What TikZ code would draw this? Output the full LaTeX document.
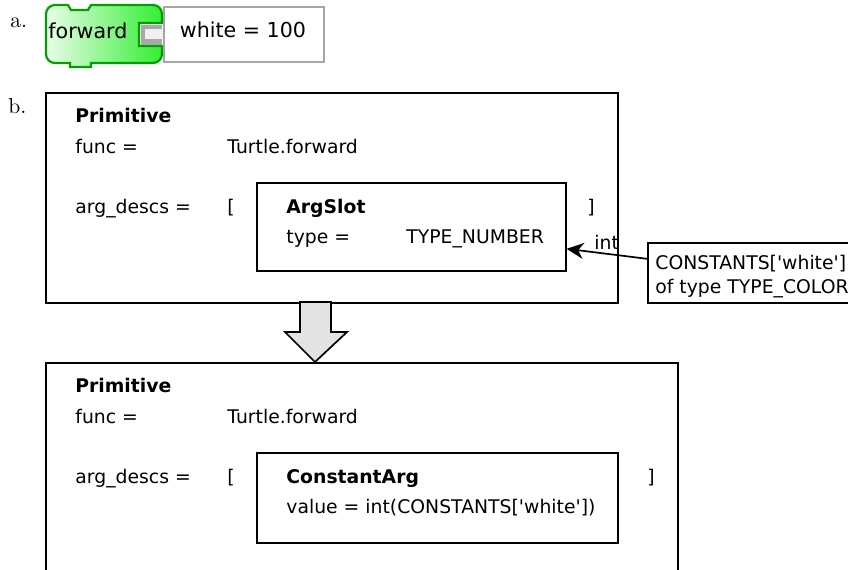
\documentclass[tikz,border=0pt]{standalone}
\usepackage{fontspec}
\newfontfamily\dejavu[Ligatures=TeXOff]{DejaVu Sans}
\usetikzlibrary{arrows.meta}
\definecolor{block-green}{HTML}{33EE33}
\definecolor{block-line}{HTML}{00A000}
\definecolor{slot-gray}{HTML}{A8A8A8}
\newcommand{\dv}{\dejavu\fontsize{9.4}{12}\selectfont}

\begin{document}
\begin{tikzpicture}[x=0.5pt, y=-0.5pt,
    every node/.style={inner sep=0pt, font=\dv},
    box/.style={draw, line width=0.8pt, anchor=north west},
    txt/.style={anchor=base west},
    bold/.style={font=\dv\bfseries},
    lbl/.style={anchor=base west, font=\rmfamily\fontsize{10.8}{13}\selectfont}]
  \useasboundingbox (0,0) rectangle (848,569);
  \clip (0,0) rectangle (848,569);

  % a. the block
  \node[lbl] (lbla) at (10,27) {a.};
  \draw[block-line, line width=1.1pt, left color=block-green!10, right color=block-green]
    (46,30) [rounded corners=4.5pt] -- (46,5) [sharp corners] -- (68,5) -- (71,10)
    -- (88,10) -- (91,5) [rounded corners=4.5pt] -- (162,5) [sharp corners]
    -- (162,23) -- (139,23) -- (139,46) -- (162,46) [rounded corners=4.5pt]
    -- (162,63) [sharp corners] -- (91,63) -- (91,67) -- (70,67) -- (70,63)
    [rounded corners=4.5pt] -- (46,63) -- cycle;
  \fill[slot-gray] (140.5,24.5) rectangle (162,44.5);
  \fill[gray!12] (145,29) rectangle (164,39);
  \node[box, draw=gray!70, line width=1pt, minimum width=80pt,
    minimum height=27.5pt] (val) at (163,6) {};
  \node[txt, font=\dejavu\fontsize{10.3}{12}\selectfont] (fwd) at (48,38) {forward};
  \node[anchor=base, font=\dejavu\fontsize{10.3}{12}\selectfont] (valtext) at (243,37) {white = 100};

  % b. before
  \node[lbl] (lblb) at (8,113) {b.};
  \node[box, minimum width=286pt, minimum height=105pt] (prim1) at (45,92) {};
  \node[txt, bold] (name1) at (75,122) {Primitive};
  \node[txt] (func1) at (75,153) {func =};
  \node[txt] (funcval1) at (227,153) {Turtle.forward};
  \node[txt] (args1) at (75,213) {arg\_descs =};
  \node[txt] (open1) at (227,213) {[};
  \node[txt] (close1) at (587,213) {]};
  \node[box, minimum width=154.5pt, minimum height=44pt] (slot) at (256,182) {};
  \node[txt, bold] (slotname) at (286,213) {ArgSlot};
  \node[txt] (type) at (286,243) {type =};
  \node[txt] (typeval) at (406,243) {TYPE\_NUMBER};
  \node[txt] (conv) at (594,249) {int};
  \node[box, minimum width=120pt, minimum height=30pt] (const) at (647,242) {};
  \node[txt] (const1) at (655,269) {CONSTANTS['white']};
  \node[txt] (const2) at (655,293) {of type TYPE\_COLOR};
  \draw[line width=0.85pt, -{Stealth[length=8.5pt, width=8pt]}]
    ([yshift=7pt]const.west) -- ([yshift=-11pt]slot.east);

  % big arrow
  \draw[line width=0.85pt, fill=gray!22] (300,302) -- (331,302) -- (331,332)
    -- (347,332) -- (315,362) -- (285,332) -- (300,332) -- cycle;

  % b. after
  \node[box, minimum width=316pt, minimum height=120pt] (prim2) at (45,362) {};
  \node[txt, bold] (name2) at (75,392) {Primitive};
  \node[txt] (func2) at (75,423) {func =};
  \node[txt] (funcval2) at (227,423) {Turtle.forward};
  \node[txt] (args2) at (75,483) {arg\_descs =};
  \node[txt] (open2) at (227,483) {[};
  \node[txt] (close2) at (647,483) {]};
  \node[box, minimum width=180.5pt, minimum height=45pt] (cst) at (256,452) {};
  \node[txt, bold] (cstname) at (286,483) {ConstantArg};
  \node[txt] (cstval) at (286,513) {value = int(CONSTANTS['white'])};
\end{tikzpicture}
\end{document}
